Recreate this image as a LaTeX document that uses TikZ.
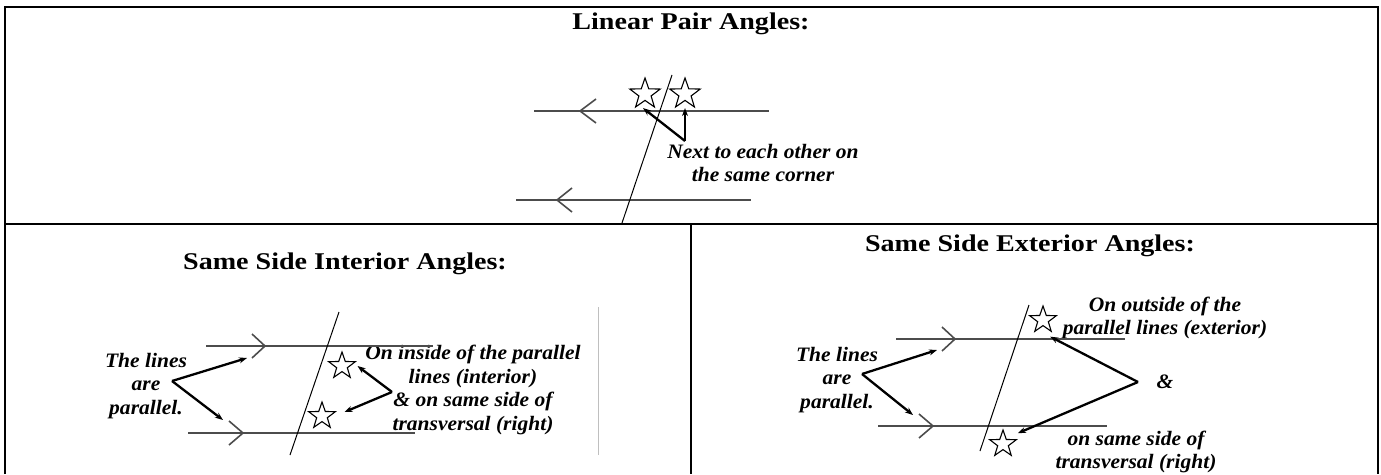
\documentclass[tikz,border=0pt]{standalone}
\usepackage{fontspec}
\setmainfont[FakeStretch=1.05]{Liberation Serif}
\newfontfamily\headfont[FakeStretch=1.17]{Liberation Serif}
\usetikzlibrary{shapes.geometric,arrows.meta}

\begin{document}
\begin{tikzpicture}[x=1pt,y=-1pt,
    cell/.style={line width=2pt},
    parline/.style={line width=1.6pt,black!70},
    transline/.style={line width=1pt},
    pointer/.style={line width=2.3pt,-{Stealth[length=8pt,width=6pt]}},
    anglestar/.style={star,star points=5,star point ratio=2.5,draw,line width=1.1pt,inner sep=0pt,minimum size=#1},
    heading/.style={font=\headfont\fontsize{24}{28}\selectfont\bfseries,anchor=base},
    note/.style={font=\fontsize{20.5}{23.5}\selectfont\bfseries\itshape,align=center,inner sep=0pt}]
    \useasboundingbox (0,0) rectangle (1381,474);
    % table
    \draw[cell] (5,474) -- (5,7) -- (1378,7) -- (1378,474);
    \draw[cell] (5,224) -- (1378,224);
    \draw[cell] (691,224) -- (691,474);
    \node[heading] (hLP) at (691,29) {Linear Pair Angles:};
    \node[heading] (hSI) at (345,269) {Same Side Interior Angles:};
    \node[heading] (hSE) at (1030,251) {Same Side Exterior Angles:};

    % linear pair
    \coordinate (a1) at (534,111); \coordinate (a2) at (769,111);
    \coordinate (b1) at (516,200); \coordinate (b2) at (751,200);
    \coordinate (t1) at (672,75);  \coordinate (t2) at (622,223);
    \node[anglestar=32pt] (sA) at (645,94) {};
    \node[anglestar=32pt] (sB) at (685,94) {};
    \coordinate (vA) at (685,141);
    \node[note] (nA) at (763,163) {Next to each other on\\the same corner};

    % same side interior
    \coordinate (c1) at (206,346); \coordinate (c2) at (433,346);
    \coordinate (d1) at (188,433); \coordinate (d2) at (415,433);
    \coordinate (u1) at (339,312); \coordinate (u2) at (290,455);
    \node[anglestar=28pt] (sC) at (342,366) {};
    \node[anglestar=28pt] (sD) at (322,416) {};
    \coordinate (vL) at (172,381); \coordinate (vR) at (392,392);
    \coordinate (pC) at (247,358); \coordinate (pD) at (223,420);
    \node[note] (nL) at (146,386) {The lines\\are\\parallel.};
    \node[note] (nR) at (473,390) {On inside of the parallel\\lines (interior)\\\& on same side of\\transversal (right)};
    \draw[gray!50,line width=0.6pt] (598,307) -- (598,455);

    % same side exterior
    \coordinate (e1) at (896,339); \coordinate (e2) at (1125,339);
    \coordinate (f1) at (878,426); \coordinate (f2) at (1107,426);
    \coordinate (w1) at (1029,305); \coordinate (w2) at (980,451);
    \node[anglestar=28pt] (sE) at (1043,320) {};
    \node[anglestar=28pt] (sF) at (1003,444) {};
    \coordinate (vM) at (862,374); \coordinate (vN) at (1138,382);
    \coordinate (pE) at (937,350); \coordinate (pF) at (913,415);
    \node[note] (nM) at (837,380) {The lines\\are\\parallel.};
    \node[note] (nT) at (1165,318) {On outside of the\\parallel lines (exterior)};
    \node[note] (nAmp) at (1165,382) {\&};
    \node[note] (nB) at (1136,452) {on same side of\\transversal (right)};

    % lines
    \foreach \p/\q in {a1/a2,b1/b2,c1/c2,d1/d2,e1/e2,f1/f2}
        \draw[parline] (\p) -- (\q);
    \foreach \p/\q in {t1/t2,u1/u2,w1/w2}
        \draw[transline] (\p) -- (\q);
    \foreach \cx/\cy/\dx in {580/111/16,557/200/15,265/346/-13,243/433/-14,955/339/-13,933/426/-14}
        \draw[parline] (\cx,\cy) ++(\dx,-12) -- (\cx,\cy) -- ++(\dx,12);

    % pointers
    \draw[pointer] (vA) -- ([xshift=-2pt,yshift=-7pt]sA.south);
    \draw[pointer] (vA) -- ([yshift=-7pt]sB.south);
    \draw[pointer] (vL) -- (pC);
    \draw[pointer] (vL) -- (pD);
    \draw[pointer] (vR) -- ([xshift=7pt]sC.east);
    \draw[pointer] (vR) -- ([xshift=14pt,yshift=4pt]sD.east);
    \draw[pointer] (vM) -- (pE);
    \draw[pointer] (vM) -- (pF);
    \draw[pointer] (vN) -- ([xshift=-2pt,yshift=-4pt]sE.outer point 4);
    \draw[pointer] (vN) -- ([yshift=6pt]sF.outer point 5);
\end{tikzpicture}
\end{document}
